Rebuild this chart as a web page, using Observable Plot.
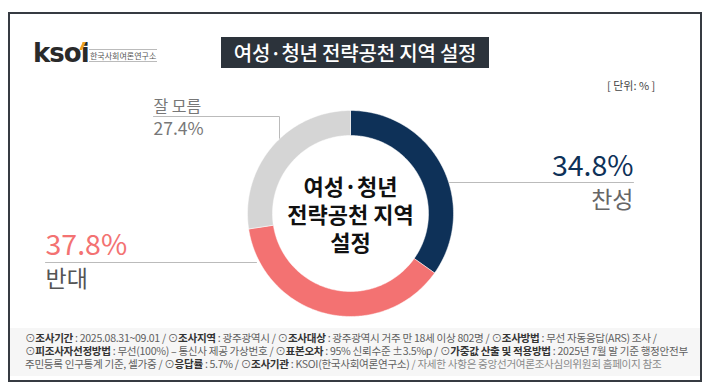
<!DOCTYPE html>
<html><head><meta charset="utf-8">
<script src="https://cdn.jsdelivr.net/npm/d3@7"></script>
<script src="https://cdn.jsdelivr.net/npm/@observablehq/plot@0.6"></script>
<style>
body{margin:0;background:#fff;font-family:"Noto Sans CJK KR","Noto Sans",sans-serif;}
#wrap{position:relative;width:710px;height:389px;overflow:hidden;background:#fff;}
#wrap svg{position:absolute;left:0;top:0;}
.frame{position:absolute;left:8px;top:12px;width:690px;height:366px;border:2px solid #363b42;box-sizing:content-box;}
.title{position:absolute;left:221px;top:37px;width:268px;height:31px;background:#2c333b;color:#fff;font-size:20px;font-weight:500;text-align:center;line-height:31px;letter-spacing:-0.2px;}
.unit{position:absolute;left:607px;top:77px;font-size:11px;color:#444;}
.logo{position:absolute;left:33px;top:40px;height:26px;}
.logo .k{font-family:"DejaVu Sans",sans-serif;font-weight:bold;font-size:26px;color:#2a2a2a;letter-spacing:-1px;line-height:26px;}
.logo .sub{position:absolute;left:56px;top:9px;font-size:8px;color:#555;white-space:nowrap;border-top:1px solid #bbb;border-bottom:1px solid #bbb;line-height:11px;padding:0 1px;}
.logo .acc{position:absolute;left:48px;top:2px;width:3px;height:8px;background:#f0a020;transform:skewX(-25deg);}
.foot{position:absolute;left:10px;top:328px;width:690px;height:48px;background:#f6f6f6;}
.foot div{position:absolute;left:15px;font-size:10.6px;color:#5f5f5f;white-space:nowrap;letter-spacing:-0.32px;line-height:13px;}
.foot b{color:#333;font-weight:700;}
.foot .lt{color:#8a8a8a;}
</style></head>
<body>
<div id="wrap">
<div class="frame"></div>
<div class="logo"><span class="k">ksoi</span><div class="acc"></div><div class="sub">한국사회여론연구소</div></div>
<div class="title">여성·청년 전략공천 지역 설정</div>
<div class="unit">[ 단위: % ]</div>
<div class="foot">
<div style="top:3px">⊙<b>조사기간</b> : 2025.08.31~09.01 / ⊙<b>조사지역</b> : 광주광역시 / ⊙<b>조사대상</b> : 광주광역시 거주 만 18세 이상 802명 / ⊙<b>조사방법</b> : 무선 자동응답(ARS) 조사 /</div>
<div style="top:16px">⊙<b>피조사자선정방법</b> : 무선(100%) – 통신사 제공 가상번호 / ⊙<b>표본오차</b> : 95% 신뢰수준 ±3.5%p / ⊙<b>가중값 산출 및 적용방법</b> : 2025년 7월 말 기준 행정안전부</div>
<div style="top:29px">주민등록 인구통계 기준, 셀가중 / ⊙<b>응답률</b> : 5.7% / ⊙<b>조사기관</b> : KSOI(한국사회여론연구소) <span class="lt">/ 자세한 사항은 중앙선거여론조사심의위원회 홈페이지 참조</span></div>
</div>
</div>
<script>
const categories = ["찬성", "반대", "잘 모름"];
const values = [34.8, 37.8, 27.4];
const colors = ["#0e3158", "#f37272", "#d5d5d5"];
const centerLines = ["여성·청년", "전략공천 지역", "설정"];

const CX = 350, CY = 213, R1 = 103, R0 = 78;
const pie = d3.pie().sort(null).value(d => d.value)(categories.map((c, i) => ({cat: c, value: values[i], color: colors[i]})));
const pts = [];
pie.forEach(s => {
  const n = Math.max(8, Math.ceil((s.endAngle - s.startAngle) * 60));
  const ring = [];
  for (let k = 0; k <= n; k++) { const a = s.startAngle + (s.endAngle - s.startAngle) * k / n; ring.push([a, R1]); }
  for (let k = n; k >= 0; k--) { const a = s.startAngle + (s.endAngle - s.startAngle) * k / n; ring.push([a, R0]); }
  ring.push([s.startAngle, R1]);
  ring.forEach(([a, r]) => pts.push({cat: s.data.cat, color: s.data.color, x: CX + r * Math.sin(a), y: CY - r * Math.cos(a)}));
});

const leaders = [
  {g: "a", x: 448, y: 182}, {g: "a", x: 633, y: 182},
  {g: "b", x: 45, y: 262}, {g: "b", x: 256, y: 262},
  {g: "c", x: 153, y: 116}, {g: "c", x: 279, y: 116}, {g: "c", x: 279, y: 140}
];
const fmt = v => v.toFixed(1) + "%";
const labels = [
  {x: 633, y: 166, t: fmt(values[0]), c: colors[0], s: 28.5, a: "end"},
  {x: 633, y: 200, t: categories[0], c: "#666", s: 23, a: "end"},
  {x: 45, y: 245, t: fmt(values[1]), c: colors[1], s: 28.5, a: "start"},
  {x: 45, y: 279, t: categories[1], c: "#555", s: 23, a: "start"},
  {x: 153, y: 106, t: categories[2], c: "#777", s: 16, a: "start"},
  {x: 153, y: 129, t: fmt(values[2]), c: "#777", s: 17.5, a: "start"}
];

const chart = Plot.plot({
  width: 710, height: 389, margin: 0,
  x: {domain: [0, 710], range: [0, 710], axis: null},
  y: {domain: [0, 389], range: [0, 389], axis: null},
  style: {background: "transparent", fontFamily: "'Noto Sans CJK KR', sans-serif"},
  marks: [
    Plot.line(leaders, {x: "x", y: "y", z: "g", stroke: "#bbb", strokeWidth: 1}),
    Plot.line(pts, {x: "x", y: "y", z: "cat", fill: "color", stroke: "white", strokeWidth: 0.5, curve: "linear"}),
    ...labels.map(l => Plot.text([l], {x: "x", y: "y", text: "t", fill: l.c, fontSize: l.s, textAnchor: l.a})),
    Plot.text(centerLines, {x: () => CX, y: (d, i) => CY - 26 + i * 28, text: d => d, fontSize: 22, fontWeight: "bold", fill: "#111", textAnchor: "middle"})
  ]
});
document.getElementById("wrap").prepend(chart);
</script>
</body></html>
